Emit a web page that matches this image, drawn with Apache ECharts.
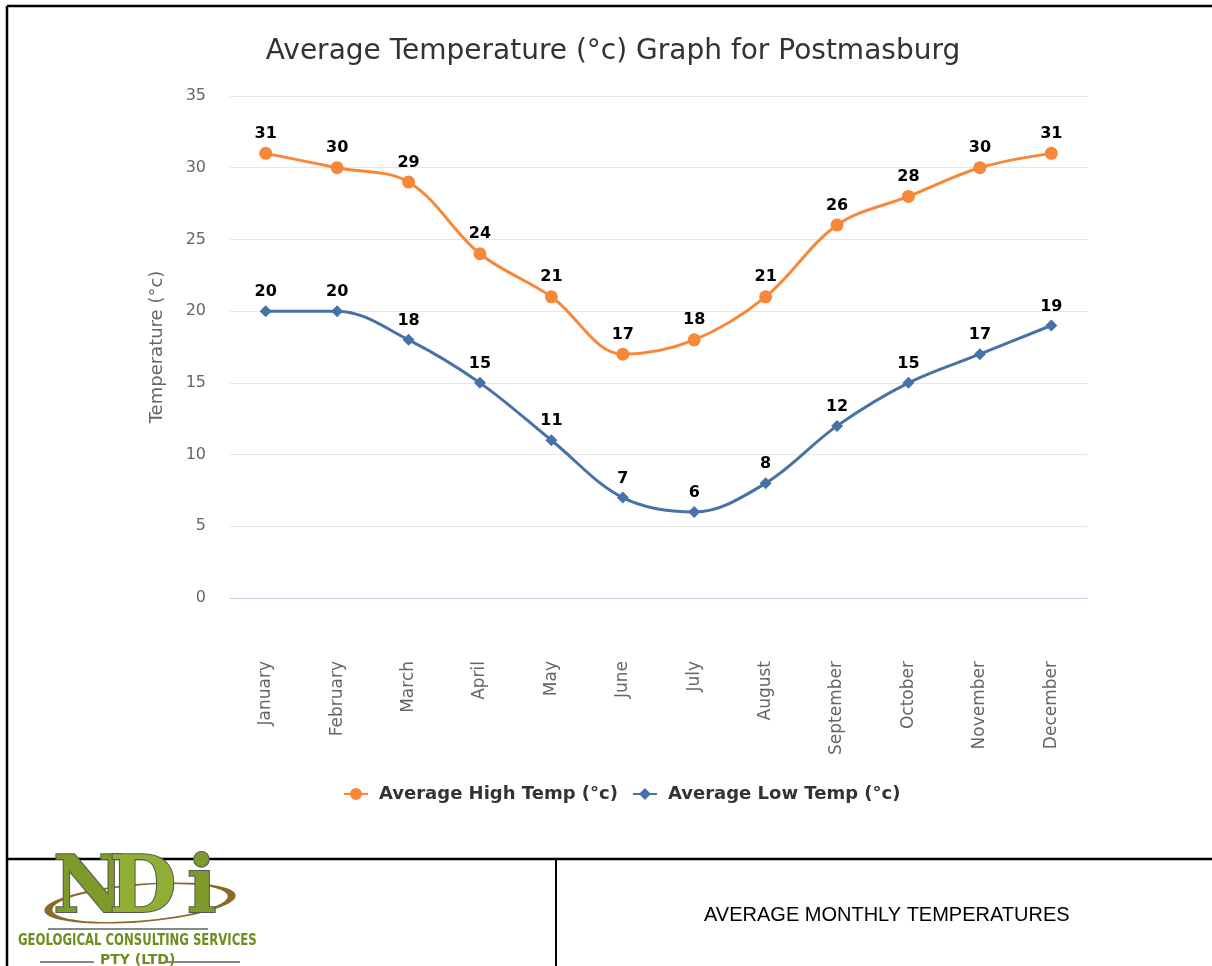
<!DOCTYPE html>
<html>
<head>
<meta charset="utf-8">
<title>Average Temperature Graph for Postmasburg</title>
<script src="https://cdn.jsdelivr.net/npm/echarts@6/dist/echarts.min.js"></script>
<style>
	html, body { margin: 0; padding: 0; background: #fff; }
	#container { width: 1212px; height: 966px; }
</style>
</head>
<body>
<div id="container"></div>
<script>
	// 月份与温度数据
	var months = ['January', 'February', 'March', 'April', 'May', 'June', 'July', 'August', 'September', 'October', 'November', 'December'];
	var highTemp = [31, 30, 29, 24, 21, 17, 18, 21, 26, 28, 30, 31];
	var lowTemp = [20, 20, 18, 15, 11, 7, 6, 8, 12, 15, 17, 19];
	var seriesNames = ['Average High Temp (°c)', 'Average Low Temp (°c)'];

	var font = 'DejaVu Sans';
	var orange = '#f7883a';
	var blue = '#4572a7';

	function lineSeries(name, data, color, symbol, size){
		return {
			name: name,
			type: 'line',
			data: data,
			smooth: 0.35,
			symbol: symbol,
			symbolSize: size,
			lineStyle: { width: 3, color: color },
			itemStyle: { color: color },
			label: {
				show: true,
				position: 'top',
				distance: 5,
				color: '#000',
				fontFamily: font,
				fontWeight: 'bold',
				fontSize: 16
			},
			emphasis: { disabled: true }
		};
	}

	var myChart = echarts.init(document.getElementById('container'));
	var option = {
		animation: false,
		title: {
			text: 'Average Temperature (°c) Graph for Postmasburg',
			left: 608,
			textAlign: 'center',
			top: 33,
			textStyle: { fontFamily: font, fontWeight: 'normal', fontSize: 28, color: '#333' }
		},
		grid: { left: 230, right: 125, top: 96, bottom: 368 },
		legend: {
			top: 780,
			left: 338,
			itemWidth: 24,
			itemHeight: 15,
			itemGap: 14,
			textStyle: { fontFamily: font, fontWeight: 'bold', fontSize: 18, color: '#333', padding: [0, 0, 0, 6] },
			data: seriesNames
		},
		xAxis: {
			type: 'category',
			data: months,
			boundaryGap: true,
			axisTick: { show: false },
			axisLine: { lineStyle: { color: '#c0d0e0', width: 1 } },
			axisLabel: { rotate: 90, margin: 63, interval: 0, fontFamily: font, fontSize: 17, color: '#666' }
		},
		yAxis: {
			type: 'value',
			min: 0,
			max: 35,
			interval: 5,
			name: 'Temperature (°c)',
			nameLocation: 'middle',
			nameGap: 64,
			nameTextStyle: { fontFamily: font, fontSize: 18, color: '#666' },
			axisLine: { show: false },
			axisTick: { show: false },
			axisLabel: { margin: 24, fontFamily: font, fontSize: 16, color: '#666' },
			splitLine: { lineStyle: { color: '#e6e6e6', width: 1 } }
		},
		series: [
			lineSeries(seriesNames[0], highTemp, orange, 'circle', 13),
			lineSeries(seriesNames[1], lowTemp, blue, 'diamond', 12)
		],
		graphic: [
			// 页面边框
			{ type: 'line', shape: { x1: 7, y1: 6, x2: 1212, y2: 6 }, style: { stroke: '#000', lineWidth: 2.5 } },
			{ type: 'line', shape: { x1: 7, y1: 6, x2: 7, y2: 966 }, style: { stroke: '#000', lineWidth: 2.5 } },
			{ type: 'line', shape: { x1: 7, y1: 859, x2: 1212, y2: 859 }, style: { stroke: '#000', lineWidth: 2.5 } },
			{ type: 'line', shape: { x1: 556, y1: 859, x2: 556, y2: 966 }, style: { stroke: '#000', lineWidth: 2 } },
			{
				type: 'text', left: 704, top: 905,
				style: { text: 'AVERAGE MONTHLY TEMPERATURES', fontFamily: 'Liberation Sans', fontSize: 20, fill: '#000' }
			},
			// logo
			{
				type: 'ring', shape: { cx: 140, cy: 903, r: 96, r0: 88 },
				scaleY: 0.2, originX: 140, originY: 903,
				rotation: 0.08,
				style: { fill: '#8a6a2a' }
			},
			{
				type: 'text', left: 52, top: 852,
				style: { text: 'N', fontFamily: 'DejaVu Serif', fontWeight: 'bold', fontSize: 78, fill: '#7e9a2a', stroke: '#555', lineWidth: 2 }
			},
			{
				type: 'text', left: 108, top: 852,
				style: { text: 'D', fontFamily: 'DejaVu Serif', fontWeight: 'bold', fontSize: 78, fill: '#8fae33', stroke: '#555', lineWidth: 2 }
			},
			{
				type: 'text', left: 186, top: 852,
				style: { text: 'i', fontFamily: 'DejaVu Serif', fontWeight: 'bold', fontSize: 78, fill: '#7e9a2a', stroke: '#555', lineWidth: 2 }
			},
			{ type: 'line', shape: { x1: 48, y1: 929, x2: 208, y2: 929 }, style: { stroke: '#888', lineWidth: 2 } },
			{
				type: 'text', left: 18, top: 933, scaleX: 0.73,
				style: { text: 'GEOLOGICAL CONSULTING SERVICES', fontFamily: 'DejaVu Sans', fontWeight: 'bold', fontSize: 16, fill: '#6f8c1f' }
			},
			{ type: 'line', shape: { x1: 40, y1: 962, x2: 94, y2: 962 }, style: { stroke: '#888', lineWidth: 2 } },
			{ type: 'line', shape: { x1: 165, y1: 962, x2: 240, y2: 962 }, style: { stroke: '#888', lineWidth: 2 } },
			{
				type: 'text', left: 100, top: 953,
				style: { text: 'PTY (LTD)', fontFamily: 'DejaVu Sans', fontWeight: 'bold', fontSize: 14, fill: '#6f8c1f' }
			}
		]
	};
	myChart.setOption(option);
</script>
</body>
</html>
